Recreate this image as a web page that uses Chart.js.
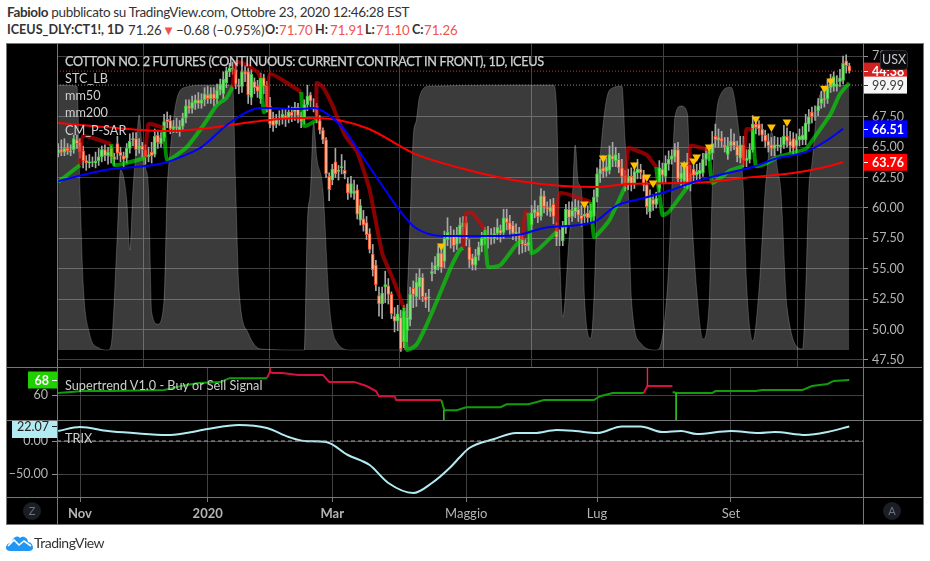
<!DOCTYPE html>
<html>
<head>
<meta charset="utf-8">
<title>CT1!</title>
<script src="https://cdn.jsdelivr.net/npm/chart.js@4/dist/chart.umd.min.js"></script>
<style>
body { margin: 0; background: #fff; font-family: Lato, sans-serif; }
#page { position: relative; width: 930px; height: 561px; overflow: hidden; }
.head { position: absolute; left: 7px; font-size: 13.5px; letter-spacing: -0.33px; color: #333; white-space: nowrap; }
.q { position: absolute; top: 22px; font-size: 13.2px; color: #333; white-space: nowrap; }
.q.v { color: #ef5350; }
.q.b { font-weight: bold; font-size: 12.6px; }
#frame { position: absolute; left: 6px; top: 43px; width: 916px; height: 480px; background: #000; border: 1px solid #787878; }
.pane { position: absolute; left: 7px; }
.rule { position: absolute; background: #787878; }
.tag { position: absolute; left: 65px; font-size: 12.7px; color: #cfcfcf; white-space: nowrap; }
.round { position: absolute; width: 18px; height: 18px; border-radius: 9px; background: #1c1e26; color: #6f7380; font-size: 11px; line-height: 18px; text-align: center; }
#usx { position: absolute; left: 880px; top: 50px; width: 26px; height: 18px; border-radius: 4px; border: 1px solid #2c2c30; background: #0c0c10; color: #c8c8c8; font-size: 12.5px; line-height: 18px; text-align: center; }
</style>
</head>
<body>
<div id="page">
  <div class="head" style="top:4px"><b>Fabiolo</b> pubblicato su TradingView.com, Ottobre 23, 2020 12:46:28 EST</div>
  <span class="q b" style="left:7px">ICEUS_DLY:CT1!, 1D</span>
  <span class="q" style="left:128px">71.26</span>
  <span class="q" style="left:162px;color:#ef5350">&#9660;</span>
  <span class="q" style="left:176px">&minus;0.68 (&minus;0.95%)</span>
  <span class="q b" style="left:265px">O:</span><span class="q v" style="left:279px">71.70</span>
  <span class="q b" style="left:315px">H:</span><span class="q v" style="left:330px">71.91</span>
  <span class="q b" style="left:365px">L:</span><span class="q v" style="left:376px">71.10</span>
  <span class="q b" style="left:412px">C:</span><span class="q v" style="left:424px">71.26</span>
  <div id="frame"></div>
  <div class="pane" style="top:44px"><canvas id="priceChart" width="915" height="323"></canvas></div>
  <div class="pane" style="top:368px"><canvas id="trendChart" width="915" height="52"></canvas></div>
  <div class="pane" style="top:421px"><canvas id="trixChart" width="915" height="102"></canvas></div>
  <div class="rule" style="left:57px;top:44px;width:1px;height:480px"></div>
  <div class="rule" style="left:863px;top:44px;width:1px;height:480px"></div>
  <div class="rule" style="left:7px;top:367px;width:915px;height:1px"></div>
  <div class="rule" style="left:7px;top:420px;width:915px;height:1px"></div>
  <div class="rule" style="left:7px;top:497px;width:915px;height:1px"></div>
  <div class="tag" style="top:53px;letter-spacing:-0.35px;-webkit-text-stroke:0.25px #cfcfcf">COTTON NO. 2 FUTURES (CONTINUOUS: CURRENT CONTRACT IN FRONT), 1D, ICEUS</div>
  <div class="tag" style="top:70px">STC_LB</div>
  <div class="tag" style="top:87px">mm50</div>
  <div class="tag" style="top:104px">mm200</div>
  <div class="tag" style="top:122px">CM_P-SAR</div>
  <div class="tag" style="top:377px">Supertrend V1.0 - Buy or Sell Signal</div>
  <div class="tag" style="top:430px">TRIX</div>
  <div class="round" style="left:23px;top:502px">Z</div>
  <div class="round" style="left:883px;top:502px">A</div>
  <div id="usx">USX</div>
  <svg style="position:absolute;left:6px;top:534px" width="27" height="17" viewBox="0 0 27 17">
    <path d="M0 14 C0 10 3 9 5 9 C7 3 11 1 14 4 C17 1 22 4 22 8 C25 8 27 11 27 14 C27 16 25 17 23 17 L4 17 C2 17 0 16 0 14 Z" fill="#2196f3"/>
    <path d="M2 12 L8 6 L13 11 L18 7 L25 12" fill="none" stroke="#fff" stroke-width="1.6"/>
  </svg>
  <div class="head" style="left:34px;top:534px;font-size:14px;letter-spacing:-0.5px">TradingView</div>
</div>

<script>
// daily bars, index 0 = 23 Oct 2019, last = 23 Oct 2020
const opens = [
  64.5,64.8,64.6,64.9,64.6,64.8,65.6,65.4,64.7,63.9,
  63.7,63.75,63.7,63.9,64.2,64.8,64.3,64.9,64.2,65.3,
  64.6,64.3,64.1,64.9,65.6,65.7,64.9,65.1,64.8,64.2,
  64.6,64.4,66.0,65.3,65.8,67.3,67.2,66.5,66.7,66.4,
  66.7,67.4,68.4,68.2,68.6,68.9,68.6,68.9,69.3,69.0,
  69.4,69.0,69.7,69.4,70.3,71.2,71.4,71.4,70.1,70.0,
  71.2,71.2,69.1,70.4,70.0,69.0,70.7,70.1,68.4,67.4,
  66.9,67.3,67.4,67.6,67.4,67.9,67.9,68.3,67.6,67.3,
  68.5,69.3,68.3,68.4,67.2,66.4,65.6,62.6,62.3,63.8,
  63.0,63.3,63.1,62.0,61.2,61.2,61.5,59.0,59.1,58.8,
  57.9,56.2,55.3,52.8,52.1,53.5,53.6,52.9,51.1,50.7,
  51.0,49.0,49.9,50.8,53.4,52.7,53.5,54.3,52.7,52.6,
  54.6,54.9,55.15,56.3,55.6,57.4,57.8,57.7,57.0,57.8,
  58.4,58.8,56.8,55.9,55.3,56.1,56.9,57.4,57.8,57.7,
  57.5,57.9,58.2,58.0,59.2,58.8,58.6,57.9,57.9,57.6,
  57.1,56.9,58.6,59.6,59.7,59.3,61.0,60.1,59.7,60.3,
  58.2,57.6,57.3,58.4,59.9,59.3,59.7,59.9,59.4,59.3,
  59.6,59.2,59.3,60.9,62.8,63.3,63.0,63.1,64.3,63.9,
  64.0,63.3,62.7,62.1,62.6,62.0,62.9,63.2,62.7,61.9,
  59.7,60.7,60.3,61.6,63.2,62.6,63.6,64.0,64.2,64.8,
  62.4,62.2,63.5,62.9,63.2,62.7,62.8,62.9,64.0,64.7,
  64.5,65.9,65.6,65.7,65.2,64.4,65.1,65.5,65.1,64.1,
  65.2,63.9,64.0,64.8,66.9,66.9,66.5,66.0,65.5,65.2,
  64.9,65.1,65.0,65.2,65.9,65.5,65.7,65.1,65.6,65.6,
  65.6,66.9,67.9,67.7,68.0,68.6,69.0,69.0,69.9,70.0,
  70.0,70.4,70.5,72.1,71.7
];
const closes = [
  64.8,64.6,64.9,64.7,64.7,65.7,65.3,64.6,63.9,63.7,
  63.8,63.8,63.85,64.2,64.8,64.3,64.6,64.2,64.0,64.5,
  64.3,64.0,64.9,65.5,65.7,64.8,65.1,64.8,64.2,64.4,
  64.3,65.9,65.4,65.8,67.1,67.1,66.5,66.7,66.6,66.7,
  67.4,68.4,68.2,68.7,68.9,68.6,68.9,69.4,69.0,69.4,
  69.0,69.7,70.2,70.6,71.3,71.5,71.5,70.2,70.0,71.2,
  71.0,69.3,71.0,69.9,69.6,70.7,70.0,68.3,66.9,66.8,
  67.3,67.4,67.7,67.4,67.9,67.6,68.3,67.6,67.1,68.5,
  69.2,68.8,68.25,67.5,66.4,65.6,62.8,61.5,63.2,62.8,
  63.1,63.4,62.8,61.25,62.0,61.4,59.5,60.2,58.6,57.8,
  56.6,54.9,53.7,52.1,53.0,53.7,52.9,51.3,50.7,51.3,
  48.4,51.5,51.0,52.9,52.9,53.9,54.3,52.7,52.4,52.7,
  54.8,55.3,56.3,55.1,57.5,58.0,57.7,56.9,57.8,58.6,
  58.8,57.4,55.7,55.3,56.0,56.8,57.5,57.9,57.5,57.6,
  57.9,58.4,57.9,59.2,58.8,58.2,57.9,58.0,57.6,57.0,
  56.9,57.2,59.6,59.9,59.3,61.0,60.1,59.9,60.1,59.3,
  57.6,57.6,58.4,59.9,59.2,59.8,60.1,59.4,59.1,59.5,
  59.2,59.8,60.9,62.8,63.2,63.0,63.4,64.4,64.0,64.4,
  63.3,62.6,62.0,62.6,62.0,63.0,63.2,62.9,61.9,60.1,
  61.0,60.3,60.8,63.3,62.7,63.7,64.0,64.3,64.8,62.4,
  62.9,63.3,62.1,62.0,62.7,63.0,63.1,64.0,64.5,64.4,
  65.3,65.6,65.8,65.5,65.0,65.1,65.5,65.1,64.3,65.2,
  63.9,64.1,64.8,66.9,66.6,66.5,66.0,65.5,65.1,64.9,
  65.2,65.2,65.2,65.9,65.5,65.1,64.9,65.6,65.9,66.0,
  67.0,67.5,67.5,67.7,68.4,69.0,68.9,69.95,70.2,70.8,
  70.2,70.7,71.9,71.7,71.26
];
const highs = [
  65.3,65.6,65.7,65.3,65.2,66.0,66.0,65.7,65.1,64.3,
  64.4,64.2,64.6,64.9,65.1,65.2,65.0,65.1,64.5,65.9,
  65.0,64.6,65.3,66.1,66.2,66.2,65.7,65.4,65.2,65.0,
  65.4,66.5,66.4,66.2,67.7,67.9,67.6,67.2,67.4,67.2,
  67.8,68.9,68.9,69.2,69.3,69.5,69.4,69.9,70.0,69.9,
  69.9,70.2,70.6,71.2,71.6,71.9,72.0,71.9,70.6,71.7,
  71.7,71.5,71.4,70.7,70.5,71.1,71.0,70.4,69.1,67.9,
  67.7,68.0,68.2,68.2,68.4,68.3,68.7,68.6,67.9,68.9,
  70.1,69.5,69.0,68.6,67.6,66.6,65.8,62.9,63.6,64.9,
  63.5,64.4,63.9,62.5,62.6,62.3,61.9,60.7,59.8,59.3,
  58.3,57.0,55.7,53.5,53.5,54.8,54.2,53.1,51.8,52.0,
  51.6,52.0,52.1,53.5,54.0,54.6,55.0,54.6,53.0,53.3,
  55.5,56.0,56.9,56.8,58.1,59.2,58.5,58.2,58.4,59.2,
  59.3,59.3,57.4,56.2,56.6,57.2,58.0,58.4,58.5,58.3,
  58.4,59.1,58.6,59.9,59.9,59.4,58.9,58.7,58.4,57.8,
  57.4,57.8,60.2,60.6,60.2,61.6,61.4,60.5,60.7,60.8,
  58.8,58.2,58.9,60.3,60.5,60.5,60.7,60.6,60.2,60.2,
  60.2,60.3,61.5,63.3,64.0,64.3,64.1,65.1,65.4,65.0,
  64.5,64.0,63.1,63.2,63.3,63.7,64.0,63.6,63.1,62.1,
  61.5,61.1,61.3,63.9,63.7,64.3,64.7,64.8,65.3,65.4,
  63.5,63.8,64.5,63.5,63.5,63.6,63.7,64.5,65.0,65.1,
  66.3,66.9,66.5,66.3,65.8,65.8,66.5,66.1,65.5,65.9,
  65.9,64.8,65.3,67.6,67.3,67.2,66.9,66.4,66.1,65.8,
  65.9,65.8,65.8,66.8,66.6,66.3,66.2,66.1,66.5,66.7,
  67.7,68.1,68.3,68.4,69.0,69.6,69.5,70.5,71.0,71.2,
  70.9,71.4,72.5,72.6,71.91
];
const lows = [
  64.2,64.3,64.3,64.4,64.3,64.5,64.9,64.1,63.3,63.1,
  63.3,63.4,63.3,63.5,63.8,63.9,63.6,63.7,63.5,64.0,
  63.8,63.3,63.7,64.5,65.1,64.3,64.5,64.2,63.6,63.8,
  63.7,64.2,64.9,65.0,65.5,66.6,66.1,66.2,66.2,65.9,
  66.4,67.0,67.8,67.8,68.1,68.2,68.2,68.4,68.6,68.6,
  68.4,68.6,69.3,69.0,69.9,70.8,71.0,69.8,69.4,69.5,
  70.4,68.6,68.5,69.4,69.1,68.6,69.4,67.9,66.6,66.3,
  66.6,66.8,66.9,66.7,67.0,67.1,67.2,67.0,66.6,66.9,
  68.0,68.3,67.9,67.0,66.1,65.3,62.5,60.6,61.9,62.5,
  62.3,62.8,62.4,60.7,60.9,60.7,59.1,58.6,58.1,57.4,
  56.3,54.4,53.2,51.1,50.9,52.2,52.1,50.9,49.8,49.9,
  48.2,48.5,49.0,50.3,51.8,51.9,52.5,52.3,51.8,51.5,
  54.0,54.6,54.9,54.7,55.1,56.9,56.7,56.4,56.6,57.1,
  57.5,56.9,55.1,54.9,54.9,55.7,56.4,57.0,56.7,57.0,
  57.1,57.4,57.2,57.5,58.2,57.8,57.4,57.3,56.2,56.3,
  56.4,56.5,58.2,59.2,58.8,59.0,59.6,59.4,59.3,58.7,
  56.9,56.9,56.9,57.9,58.6,58.9,59.2,58.9,58.5,58.8,
  58.7,58.8,58.9,60.5,62.1,62.5,62.6,62.8,63.4,63.4,
  62.9,62.0,61.4,61.5,61.4,61.6,62.4,62.4,61.4,59.5,
  59.2,59.8,60.0,61.2,62.1,62.1,63.1,63.6,63.8,62.0,
  61.8,61.7,61.6,61.4,62.0,62.2,62.3,62.6,63.5,63.9,
  64.0,65.0,65.0,65.0,64.6,64.0,64.7,64.8,63.8,63.7,
  63.4,63.4,63.7,64.6,66.1,66.0,65.5,65.0,64.6,64.3,
  64.3,64.7,64.5,64.9,65.0,64.6,64.3,64.5,65.1,65.2,
  65.2,66.3,67.0,67.2,67.6,68.2,68.3,68.6,69.5,69.6,
  69.6,70.0,70.2,71.1,71.10
];

const mm50Bars = [0,15,34,40,46,55,65,78,82,86,92,98,105,110,114,119,124,139,148,156,172,179,188,197,204,215,223,231,240,247,252];
const mm50Values = [62.2,63.12,63.7,64.27,65.01,66.99,68.22,68.14,68.22,67.81,66.41,64.11,61.48,59.67,58.52,57.86,57.7,57.7,57.8,58.36,58.85,60.16,60.82,61.48,62.14,62.88,63.37,64.11,64.6,65.59,66.51];
const mm200Bars = [0,15,35,51,62,78,83,99,114,129,150,172,183,209,220,236,245,252];
const mm200Values = [66.99,66.66,66.33,66.66,67.07,67.4,67.4,66.58,64.52,63.29,62.14,61.73,61.97,62.14,62.47,62.88,63.29,63.76];

// parabolic SAR, null breaks the line between runs
const sarGreenBars = [0,7,7,17,18,28,28,34,35,41,46,51,54,56,56,65,66,67,67,78,79,83,83,111,112,115,118,122,126,129,130,130,137,138,142,147,149,149,151,152,154,160,160,171,172,173,177,182,182,192,194,196,203,203,209,210,216,220,220,223,224,227,231,240,242,248,251,254];
const sarGreenValues = [62.14,63.53,null,65.26,63.53,64.11,null,66.58,63.95,64.93,66.58,68.47,69.04,69.95,null,70.69,67.89,68.06,null,69.54,66.74,67.23,null,51.78,48.33,48.74,50.22,52.6,55.07,56.55,56.71,null,58.19,55.15,55.31,56.96,57.37,null,59.6,56.3,56.55,58.03,null,60.49,57.62,57.78,59.01,61.73,null,63.37,59.42,59.67,62.06,null,64.77,62.06,63.12,63.45,null,66.41,63.45,63.62,64.19,64.85,65.51,67.73,69.37,70.28];
const sarRedBars = [7,8,17,17,28,29,34,34,56,57,60,64,65,65,67,68,78,78,83,83,85,88,92,96,100,104,108,111,111,130,131,133,137,137,149,150,151,151,160,161,171,171,182,183,186,189,192,192,203,203,209,209,220,221,223];
const sarRedValues = [63.53,65.92,65.26,null,64.11,66.9,66.58,null,69.95,72.0,71.84,71.18,70.69,null,68.06,71.02,69.54,null,67.23,70.28,69.95,68.47,66.0,64.6,61.48,56.3,53.83,51.78,null,56.71,59.59,59.59,58.19,null,57.37,59.67,59.6,null,58.03,61.23,60.49,null,61.73,64.93,64.69,64.36,63.37,null,62.06,65.1,64.77,null,63.45,66.49,66.41];

const stcBars = [0,6,7,8,10,13,16,17,19,20,22,23,24,25,26,27,28,29,30,32,34,35,36,38,41,48,56,57,58,61,65,79,80,81,82,83,85,87,89,94,111,113,114,115,116,119,159,160,161,162,164,165,166,167,168,169,171,172,173,174,176,178,181,182,183,184,187,192,194,196,197,198,200,202,203,205,207,209,210,212,216,218,220,221,223,225,227,228,229,231,232,234,239,240,241,242,244,247,254];
const stcValues = [100,99.6,60.4,25.3,6.4,0.8,0,1.9,44,68,56.6,37.7,60.4,75.5,88.7,75.5,69,60.4,14.3,9.8,18.9,60.4,75.5,94.3,99.2,100,100,60.4,23.8,6.4,0.4,0,47.9,60.4,86,72.8,60.4,17.7,3.8,0,0,49.1,80.4,86.8,95.5,99.6,100,91.7,37.7,12.5,41.5,55.5,77.4,63,60.4,18.9,4.5,18.9,54,72.8,94.3,98.9,99.6,79.2,60.4,20,2.6,0,4.9,31.3,60.4,87.9,92.1,89.4,60.4,22.6,4.2,17.7,60.4,94.3,99.2,87.9,60.4,25.3,3.4,22.6,60.4,72.8,82.3,67.9,60.4,16.2,0.4,22.6,60.4,70.2,94,99.2,100];

const markerBars = [123,169,175,185,189,191,201,204,205,209,224,229,234,246,248];
const markerValues = [56.88,60.33,64.11,63.53,62.55,62.06,63.53,63.86,64.19,65.01,67.32,66.66,67.07,69.86,70.44];

// supertrend runs, the flip spikes are thin so they get their own lines
const trendGreenBars = [0,8,17,34,40,45,52,55,67,67,123,124,128,131,142,144,151,156,172,174,178,188,188,197.3,198.4,210,211,224,226,239,242,247,249,254];
const trendGreenValues = [61.07,62.1,62.1,62.7,65,66.4,66.9,69,69,null,57.3,51.9,51.9,53.5,53.5,55.1,55.1,57.3,57.3,59.4,61.07,61.07,null,61.6,61.07,61.07,62.1,62.1,62.7,62.7,64.8,65.9,67.5,68];
const trendRedBars = [67,68,69,72,77,85,87,95,99,102,103,108,108.5,123,123,188,189.2,197.2];
const trendRedValues = [69,72.27,71.7,71.7,70.7,70.7,67,67,64.8,62.1,59.4,59.4,57.3,57.3,null,61.07,64.8,64.8];
const spikeGreenBars = [123.8,123.8,123.8,198.4,198.4];
const spikeGreenValues = [51.9,46.7,null,61.07,46.7];
const spikeRedBars = [68,68,68,189.2,189.2];
const spikeRedValues = [72.27,74.4,null,64.8,74.4];

const trixBars = [0,7,16,24,35,41,48,58,67,74,79,86,93,100,106,114,120,126,129,132,140,147,153,160,166,173,181,187,194,200,205,216,225,230,240,247,254];
const trixValues = [15.2,21.2,15.2,12.1,9.1,12.1,18.2,24.2,19.7,6.1,0,-1.5,-21.2,-36.4,-63.6,-78.8,-63.6,-39.4,-24.2,-10.6,3,12.1,12.1,16.7,15.2,12.1,22.07,22.07,13.6,15.2,10.6,15.2,12.1,13.6,9.1,13.6,22.07];

const monthBars = [7,48,88,131,173,216];
const monthLabels = ['Nov','2020','Mar','Maggio','Lug','Set'];
const boldLabels = ['Nov','2020','Mar'];
const priceTicks = [47.5,50,52.5,55,57.5,60,62.5,65,67.5,72.5];
const trendTicks = [60];
const trixTicks = [-50,0];

const lastPrice = 71.26;
const xMin = -0.385, xMax = 258.4;
const axisFamily = 'Lato, sans-serif';
const axisFont = { family: axisFamily, size: 12.5 };
const axisColor = '#b4b4b4';
const gridColor = '#414141';

const zip = (xs, ys) => xs.map((x, i) => ({ x: x, y: ys[i] }));

Chart.defaults.animation = false;
Chart.defaults.responsive = false;
Chart.defaults.plugins.legend.display = false;
Chart.defaults.plugins.tooltip.enabled = false;

function xAxis(withLabels) {
    return {
        type: 'linear', min: xMin, max: xMax, offset: false,
        afterBuildTicks: s => { s.ticks = monthBars.map(v => ({ value: v })); },
        afterFit: s => { s.height = withLabels ? 26 : 0; s.paddingLeft = 0; s.paddingRight = 0; },
        grid: { color: gridColor, drawTicks: withLabels, tickLength: 5, tickColor: '#787878' },
        border: { display: false },
        ticks: {
            display: withLabels, autoSkip: false, maxRotation: 0, padding: 4, color: axisColor,
            font: c => ({ family: axisFamily, size: 13, weight: c.tick && boldLabels.includes(monthLabels[monthBars.indexOf(c.tick.value)]) ? 'bold' : 'normal' }),
            callback: v => monthLabels[monthBars.indexOf(v)]
        }
    };
}

function yAxis(position, lo, hi, tickValues, width, fmt) {
    return {
        position: position, min: lo, max: hi,
        afterBuildTicks: s => { s.ticks = tickValues.map(v => ({ value: v })); },
        // no extra room for the tick labels, the panes must keep their exact height
        afterFit: s => { s.width = width; s.paddingTop = 0; s.paddingBottom = 0; },
        grid: { color: gridColor, tickLength: 5, tickColor: '#909090' },
        border: { display: false },
        ticks: { color: axisColor, font: axisFont, padding: 4, autoSkip: false, callback: fmt }
    };
}

// coloured value boxes sitting on the axis
function badgePlugin(list, left, boxWidth) {
    return {
        id: 'badges',
        afterDraw(chart) {
            const ctx = chart.ctx;
            ctx.save();
            list.forEach(b => {
                const y = chart.scales[b.axis].getPixelForValue(b.value);
                const top = Math.max(0, y - 8.5);
                ctx.fillStyle = b.bg;
                ctx.fillRect(left, top, boxWidth, 17);
                ctx.fillStyle = b.fg;
                const tickX = b.side === 'left' ? left + boxWidth - 5 : left;
                ctx.fillRect(tickX, Math.round(y), 5, 1);
                ctx.font = (b.bold ? 'bold ' : '') + '12.5px Lato, sans-serif';
                ctx.textBaseline = 'middle';
                ctx.textAlign = b.side === 'left' ? 'right' : 'left';
                ctx.fillText(b.text, b.side === 'left' ? left + boxWidth - 8 : left + 9, y + 1);
            });
            ctx.restore();
        }
    };
}

new Chart(document.getElementById('priceChart'), {
    type: 'bar',
    data: {
        datasets: [
            { type: 'line', data: zip(stcBars, stcValues), yAxisID: 'yStc', order: 20, fill: 'origin',
              backgroundColor: 'rgba(255,255,255,0.23)', borderColor: 'rgba(255,255,255,0.2)', borderWidth: 1,
              pointRadius: 0, cubicInterpolationMode: 'monotone' },
            { type: 'line', data: zip([xMin, xMax], [99.99, 99.99]), yAxisID: 'yStc', order: 19,
              borderColor: '#8a8a8a', borderWidth: 1, borderDash: [1, 2], pointRadius: 0 },
            { type: 'line', data: zip([xMin, xMax], [lastPrice, lastPrice]), yAxisID: 'y', order: 18,
              borderColor: '#d0342c', borderWidth: 1, borderDash: [1, 2], pointRadius: 0 },
            { type: 'bar', data: closes.map((c, i) => ({ x: i, y: [lows[i], highs[i]] })), order: 15, grouped: false,
              barThickness: 1, backgroundColor: '#a8a8a8', borderWidth: 0 },
            { type: 'bar', data: closes.map((c, i) => ({ x: i, y: [opens[i], c] })), order: 14, grouped: false,
              barThickness: 3, borderSkipped: false, borderWidth: 1,
              backgroundColor: closes.map((c, i) => c >= opens[i] ? '#86de80' : '#ffba98'),
              borderColor: closes.map((c, i) => c >= opens[i] ? '#3fc83f' : '#f4512a') },
            { type: 'line', data: zip(sarRedBars, sarRedValues), order: 10, borderColor: 'rgba(226,0,0,0.6)', borderWidth: 4,
              pointRadius: 0, tension: 0.15, spanGaps: false },
            { type: 'line', data: zip(sarGreenBars, sarGreenValues), order: 9, borderColor: 'rgba(0,235,0,0.6)', borderWidth: 4,
              pointRadius: 0, tension: 0.15, spanGaps: false },
            { type: 'line', data: zip(mm200Bars, mm200Values), order: 6, borderColor: '#ff0000', borderWidth: 2,
              pointRadius: 0, cubicInterpolationMode: 'monotone' },
            { type: 'line', data: zip(mm50Bars, mm50Values), order: 5, borderColor: '#0000ff', borderWidth: 2,
              pointRadius: 0, cubicInterpolationMode: 'monotone' },
            { type: 'line', data: zip(markerBars, markerValues), order: 4, showLine: false, pointStyle: 'triangle',
              pointRotation: 180, pointRadius: 5, pointBackgroundColor: '#ffc000', pointBorderWidth: 0 }
        ]
    },
    options: {
        layout: { autoPadding: false, padding: { left: 50 } },
        scales: {
            x: xAxis(false),
            y: yAxis('right', 46.92, 73.49, priceTicks, 59, v => v.toFixed(2)),
            yStc: { display: false, min: -6.4, max: 115.5 }
        }
    },
    plugins: [badgePlugin([
        { axis: 'y', value: lastPrice, text: '44:38', bg: '#d32020', fg: '#fff', bold: true },
        { axis: 'yStc', value: 99.99, text: '99.99', bg: '#f7f7f7', fg: '#3a3a3a', bold: false },
        { axis: 'y', value: 66.51, text: '66.51', bg: '#0000ff', fg: '#fff', bold: true },
        { axis: 'y', value: 63.76, text: '63.76', bg: '#ff0000', fg: '#fff', bold: true }
    ], 856, 44)]
});

new Chart(document.getElementById('trendChart'), {
    type: 'line',
    data: {
        datasets: [
            { data: zip(spikeGreenBars, spikeGreenValues), borderColor: '#2fc21f', borderWidth: 1, pointRadius: 0, spanGaps: false },
            { data: zip(spikeRedBars, spikeRedValues), borderColor: '#ff2040', borderWidth: 1.4, pointRadius: 0, spanGaps: false },
            { data: zip(trendGreenBars, trendGreenValues), borderColor: '#129c0c', borderWidth: 2, pointRadius: 0, spanGaps: false },
            { data: zip(trendRedBars, trendRedValues), borderColor: '#d6103f', borderWidth: 2, pointRadius: 0, spanGaps: false }
        ]
    },
    options: {
        layout: { autoPadding: false, padding: { right: 59 } },
        scales: {
            x: xAxis(false),
            y: yAxis('left', 46.7, 74.4, trendTicks, 50, v => String(v))
        }
    },
    plugins: [badgePlugin([
        { axis: 'y', value: 68, text: '68', bg: '#20d000', fg: '#fff', bold: true, side: 'left' }
    ], 21, 29)]
});

new Chart(document.getElementById('trixChart'), {
    type: 'line',
    data: {
        datasets: [
            { data: zip([xMin, xMax], [0, 0]), borderColor: '#a8a8a8', borderWidth: 1, borderDash: [4, 3], pointRadius: 0 },
            { data: zip(trixBars, trixValues), borderColor: '#b2ebf2', borderWidth: 2, pointRadius: 0, cubicInterpolationMode: 'monotone' }
        ]
    },
    options: {
        layout: { autoPadding: false, padding: { right: 59 } },
        scales: {
            x: xAxis(true),
            y: yAxis('left', -84.8, 30.3, trixTicks, 50, v => v === 0 ? '0.00' : '\u221250.00')
        }
    },
    plugins: [badgePlugin([
        { axis: 'y', value: 22.07, text: '22.07', bg: '#b2ebf2', fg: '#222', bold: false, side: 'left' }
    ], 5, 45)]
});
</script>
</body>
</html>
